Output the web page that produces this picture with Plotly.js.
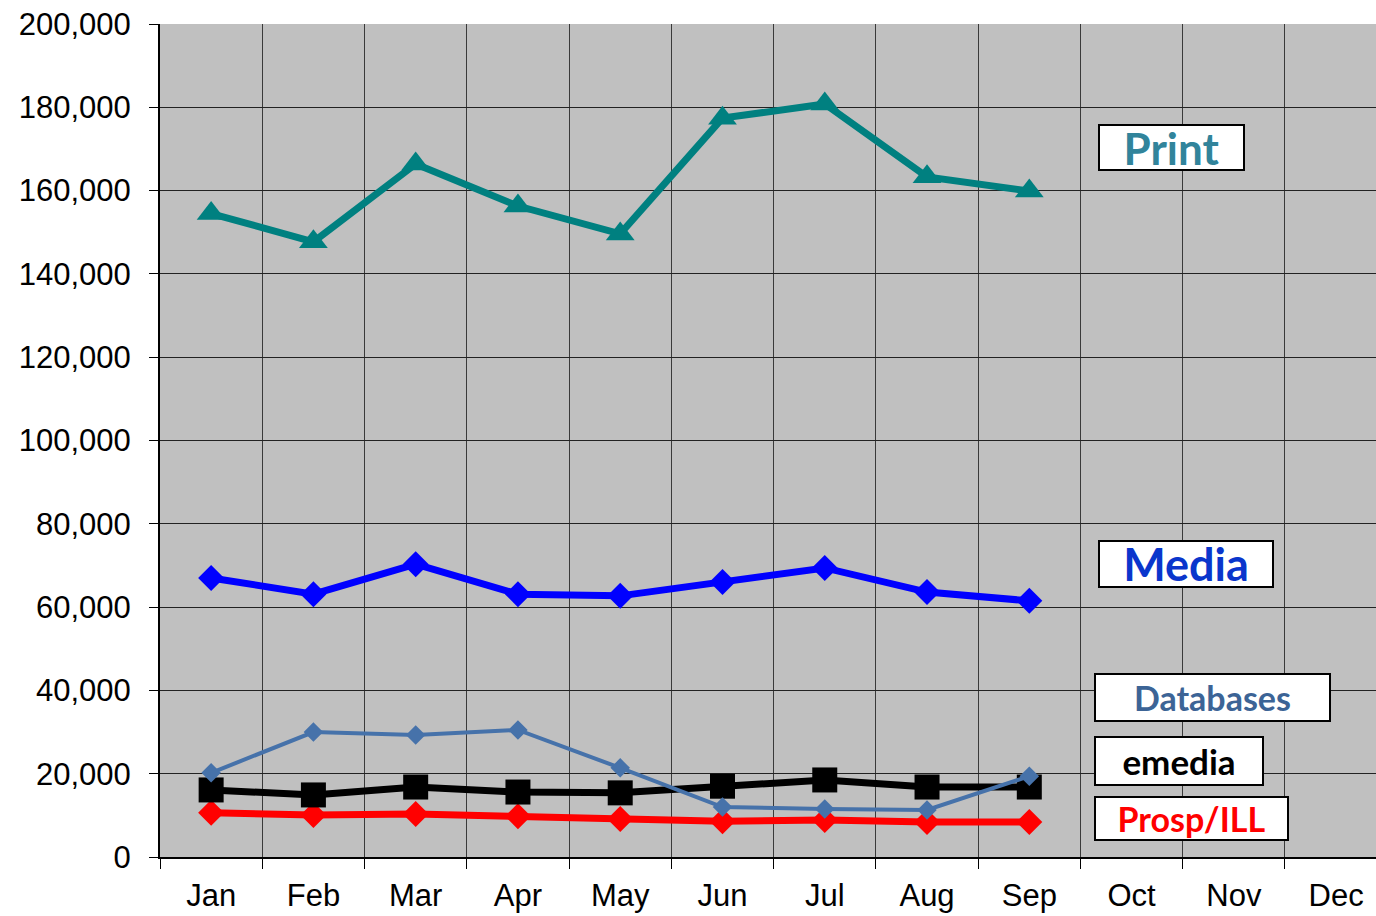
<!DOCTYPE html>
<html>
<head>
<meta charset="utf-8">
<script src="https://cdn.plot.ly/plotly-3.0.1.min.js"></script>
<style>html,body{margin:0;padding:0;background:#fff;}#chart{width:1376px;height:916px;}</style>
</head>
<body>
<div id="chart"></div>
<script>
const months = ["Jan","Feb","Mar","Apr","May","Jun","Jul","Aug","Sep","Oct","Nov","Dec"];
const print = [154500,147700,166400,156300,149600,177400,180800,163300,159900];
const media = [67000,63100,70300,63100,62700,66000,69400,63600,61500];
const databases = [20200,30000,29300,30500,21400,12000,11500,11300,19400];
const emedia = [16100,14900,16800,15600,15400,17000,18500,16800,16800];
const prosp = [10600,10100,10300,9800,9100,8600,8900,8400,8400];

const xs = months.slice(0, 9);

const traces = [
  {x: xs, y: prosp, name: "Prosp/ILL", mode: "lines+markers",
   line: {color: "#ff0000", width: 7}, marker: {symbol: "diamond", size: 20, color: "#ff0000"}},
  {x: xs, y: emedia, name: "emedia", mode: "lines+markers",
   line: {color: "#000000", width: 7}, marker: {symbol: "square", size: 25, color: "#000000"}},
  {x: xs, y: databases, name: "Databases", mode: "lines+markers",
   line: {color: "#4672aa", width: 4}, marker: {symbol: "diamond", size: 15, color: "#4672aa"}},
  {x: xs, y: media, name: "Media", mode: "lines+markers",
   line: {color: "#0000ff", width: 7}, marker: {symbol: "diamond", size: 20, color: "#0000ff"}},
  {x: xs, y: print, name: "Print", mode: "lines+markers",
   line: {color: "#008080", width: 7}, marker: {symbol: "triangle-up", size: 25, color: "#008080"}}
];

function box(text, cx, cy, w, h, color, size) {
  return {
    text: "<b>" + text + "</b>", xref: "paper", yref: "paper",
    x: (cx - 160) / 1216, y: (857 - cy) / 833, xanchor: "center", yanchor: "middle",
    showarrow: false, bgcolor: "#ffffff", bordercolor: "#000000", borderwidth: 2, borderpad: 0,
    width: w - 4, height: h - 4,
    font: {family: "Lato, 'Open Sans', sans-serif", size: size, color: color}
  };
}

const layout = {
  width: 1376, height: 916,
  margin: {l: 160, r: 0, t: 24, b: 59},
  paper_bgcolor: "#ffffff", plot_bgcolor: "#c0c0c0",
  showlegend: false,
  font: {family: "'Liberation Sans', Arial, sans-serif", color: "#000"},
  xaxis: {
    type: "category", categoryorder: "array", categoryarray: months,
    range: [-0.5, 11.39], tickson: "boundaries",
    showgrid: true, gridcolor: "#3a3a3a", gridwidth: 1,
    ticks: "outside", ticklen: 10, tickcolor: "#000", tickwidth: 1,
    ticklabelstandoff: 10,
    showline: true, linecolor: "#000", linewidth: 2,
    tickfont: {size: 31, color: "#000"}, fixedrange: true
  },
  yaxis: {
    range: [0, 200000], dtick: 20000, tickformat: ",d",
    showgrid: true, gridcolor: "#222", gridwidth: 1,
    ticks: "outside", ticklen: 9, tickcolor: "#000",
    ticklabelstandoff: 12,
    showline: true, linecolor: "#000", linewidth: 2,
    zeroline: false,
    tickfont: {size: 31, color: "#000"}, fixedrange: true
  },
  annotations: [
    box("Print", 1171.5, 147.5, 147, 47, "#31849b", 44),
    box("Media", 1186, 564, 176, 48, "#0a36cc", 45),
    box("Databases", 1212.5, 697.5, 237, 49, "#3c6496", 34),
    box("emedia", 1179, 761, 170, 50, "#000000", 35),
    box("Prosp/ILL", 1191.5, 818.5, 195, 45, "#ff0000", 34)
  ]
};

Plotly.newPlot("chart", traces, layout, {displayModeBar: false, staticPlot: true});
</script>
</body>
</html>
